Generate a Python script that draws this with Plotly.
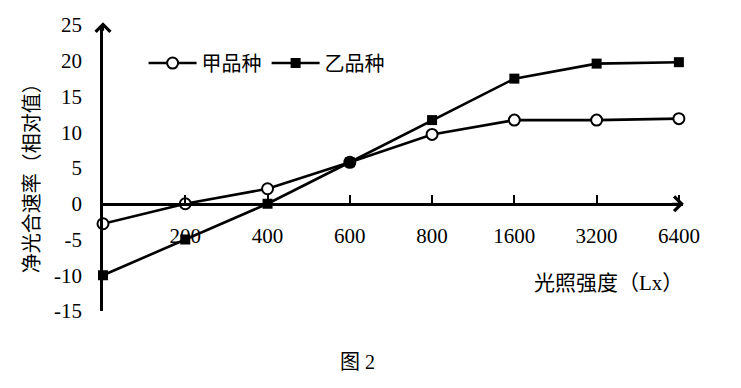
import plotly.graph_objects as go

categories = ["0", "200", "400", "600", "800", "1600", "3200", "6400"]
jia = [-2.8, 0, 2.1, 5.8, 9.7, 11.7, 11.7, 11.9]
yi = [-10, -5, 0, 5.8, 11.7, 17.5, 19.6, 19.8]
series_names = ["甲品种", "乙品种"]
y_ticks = [-15, -10, -5, 0, 5, 10, 15, 20, 25]

xpos = list(range(len(categories)))
FONT = "Liberation Serif, Noto Sans CJK SC, serif"

fig = go.Figure()
fig.add_trace(go.Scatter(
    x=xpos, y=jia, name=series_names[0], mode="lines+markers",
    line=dict(color="black", width=2.6),
    marker=dict(symbol="circle", size=11, color="white", line=dict(color="black", width=2)),
    cliponaxis=False))
fig.add_trace(go.Scatter(
    x=xpos, y=yi, name=series_names[1], mode="lines+markers",
    line=dict(color="black", width=2.6),
    marker=dict(symbol="square", size=10, color="black", line=dict(color="black", width=0)),
    cliponaxis=False))

fig.update_layout(
    width=741, height=388,
    margin=dict(l=103, r=58, t=25, b=77),
    paper_bgcolor="white", plot_bgcolor="white",
    font=dict(family=FONT, size=20, color="black"),
    showlegend=True,
    legend=dict(orientation="h", x=0.07, y=0.867, xanchor="left", yanchor="middle",
                font=dict(family="Noto Sans CJK SC", size=20, color="black"),
                itemwidth=48, bgcolor="rgba(0,0,0,0)", tracegroupgap=0),
    xaxis=dict(range=[0, 7.05], tickvals=xpos[1:], ticktext=categories[1:],
               showgrid=False, zeroline=False, showline=True, linecolor="black", linewidth=2.5,
               ticks="inside", ticklen=8, tickwidth=2, tickcolor="black",
               anchor="free", position=0.375, ticklabelstandoff=12,
               tickfont=dict(family=FONT, size=21)),
    yaxis=dict(range=[-15, 25], tickvals=y_ticks, ticktext=[str(v) for v in y_ticks],
               showgrid=False, zeroline=False, showline=True, linecolor="black", linewidth=2.5,
               ticks="", ticklabelstandoff=14, domain=[0, 1],
               tickfont=dict(family=FONT, size=21)),
)

# arrowheads on axes
fig.add_annotation(x=7.06, y=0, ax=6.9, ay=0, xref="x", yref="y", axref="x", ayref="y",
                   showarrow=True, arrowhead=4, arrowsize=1.3, arrowwidth=2.2, arrowcolor="black", text="")
fig.add_annotation(x=0, y=25.4, ax=0, ay=24, xref="x", yref="y", axref="x", ayref="y",
                   showarrow=True, arrowhead=4, arrowsize=1.3, arrowwidth=2.2, arrowcolor="black", text="")

fig.add_annotation(text="净光合速率（相对值）", x=-0.122, y=0.4825, xref="paper", yref="paper",
                   textangle=-90, showarrow=False, xanchor="center", yanchor="middle",
                   font=dict(family=FONT, size=20))
fig.add_annotation(text="光照强度（Lx）", x=0.8707, y=0.098, xref="paper", yref="paper",
                   showarrow=False, xanchor="center", yanchor="middle",
                   font=dict(family=FONT, size=21))
fig.add_annotation(text="图 2", x=0.438, y=-0.178, xref="paper", yref="paper",
                   showarrow=False, xanchor="center", yanchor="middle",
                   font=dict(family=FONT, size=20))

fig.write_html("out.html")
